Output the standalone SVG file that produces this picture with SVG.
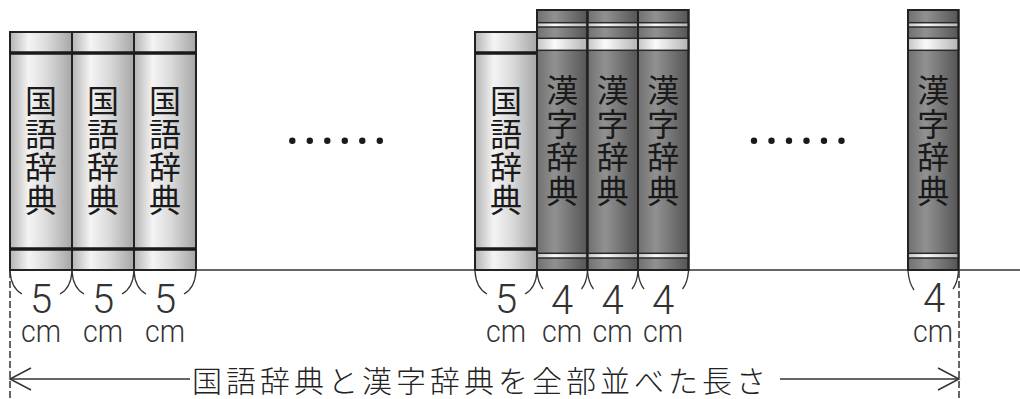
<svg xmlns="http://www.w3.org/2000/svg" width="1020" height="399" viewBox="0 0 1020 399">
<style>
.outline{stroke:#222;stroke-width:2;}
.thick{stroke:#1a1a1a;stroke-width:3.5;}
.thin{stroke:#2a2a2a;stroke-width:1.5;}
.spine{font-family:"Noto Sans CJK JP","Noto Sans CJK SC",sans-serif;font-weight:400;font-size:32px;fill:#1a1a1a;text-anchor:middle;dominant-baseline:central;}
.num{font-family:Roboto,"Liberation Sans",sans-serif;font-weight:300;font-size:40px;fill:#333;text-anchor:middle;}
.unit{font-family:Roboto,"Liberation Sans",sans-serif;font-weight:300;font-size:31px;fill:#333;text-anchor:middle;}
.cap{font-family:"Noto Sans CJK JP","Noto Sans CJK SC",sans-serif;font-weight:300;font-size:30px;fill:#222;letter-spacing:4px;dominant-baseline:central;}
.arm{fill:none;stroke:#333;stroke-width:1.3;}
.dash{stroke:#333;stroke-width:1.5;stroke-dasharray:7 3;}
.ln{stroke:#333;stroke-width:1.5;fill:none;}
</style>
<defs>
<linearGradient id="gLight" x1="0" y1="0" x2="1" y2="0">
<stop offset="0" stop-color="#b4b4b4"/>
<stop offset="0.3" stop-color="#f4f4f4"/>
<stop offset="0.6" stop-color="#dadada"/>
<stop offset="1" stop-color="#a6a6a6"/>
</linearGradient>
<linearGradient id="gDark" x1="0" y1="0" x2="1" y2="0">
<stop offset="0" stop-color="#707070"/>
<stop offset="0.35" stop-color="#919191"/>
<stop offset="1" stop-color="#555555"/>
</linearGradient>
<linearGradient id="gStrip" x1="0" y1="0" x2="1" y2="0">
<stop offset="0" stop-color="#c4c4c4"/>
<stop offset="0.35" stop-color="#fafafa"/>
<stop offset="1" stop-color="#b4b4b4"/>
</linearGradient>
<g id="kokugo">
<rect x="0" y="32" width="62" height="238" fill="url(#gLight)" class="outline"/>
<line x1="0" y1="53" x2="62" y2="53" class="thick"/>
<line x1="0" y1="249" x2="62" y2="249" class="thick"/>
<text class="spine"><tspan x="31" y="99">国</tspan><tspan x="31" y="132">語</tspan><tspan x="31" y="165">辞</tspan><tspan x="31" y="198">典</tspan></text>
</g>
<g id="kanji">
<rect x="0" y="10" width="50.5" height="260" fill="url(#gDark)" class="outline"/>
<rect x="0" y="22.7" width="50.5" height="4.3" fill="url(#gStrip)" class="thin"/>
<rect x="0" y="38.3" width="50.5" height="12" fill="url(#gStrip)" class="thin"/>
<rect x="0" y="253.3" width="50.5" height="4.7" fill="url(#gStrip)" class="thin"/>
<rect x="0" y="10" width="50.5" height="260" fill="none" class="outline"/>
<text class="spine"><tspan x="25.25" y="88">漢</tspan><tspan x="25.25" y="121.5">字</tspan><tspan x="25.25" y="155">辞</tspan><tspan x="25.25" y="188.5">典</tspan></text>
</g>
</defs>
<g id="ground">
<line x1="10" y1="270" x2="1020" y2="270" class="ln"/>
</g>
<g id="book-k1"><use href="#kokugo" x="10"/></g>
<g id="book-k2"><use href="#kokugo" x="72"/></g>
<g id="book-k3"><use href="#kokugo" x="134"/></g>
<g id="book-k4"><use href="#kokugo" x="475"/></g>
<g id="book-j1"><use href="#kanji" x="537"/></g>
<g id="book-j2"><use href="#kanji" x="587.5"/></g>
<g id="book-j3"><use href="#kanji" x="638"/></g>
<g id="book-j4"><use href="#kanji" x="908"/></g>
<g id="dots-1" fill="#1a1a1a">
<circle cx="292.3" cy="140.7" r="3.2"/><circle cx="309.8" cy="140.7" r="3.2"/><circle cx="327.3" cy="140.7" r="3.2"/><circle cx="344.8" cy="140.7" r="3.2"/><circle cx="362.3" cy="140.7" r="3.2"/><circle cx="379.8" cy="140.7" r="3.2"/>
</g>
<g id="dots-2" fill="#1a1a1a">
<circle cx="754" cy="140.7" r="3.2"/><circle cx="771.5" cy="140.7" r="3.2"/><circle cx="789" cy="140.7" r="3.2"/><circle cx="806.5" cy="140.7" r="3.2"/><circle cx="824" cy="140.7" r="3.2"/><circle cx="841.5" cy="140.7" r="3.2"/>
</g>
<g id="connectors">
<path class="arm" d="M10,271 Q11,288 22,294"/>
<path class="arm" d="M72,271 Q71,288 60,294"/>
<path class="arm" d="M72,271 Q73,288 84,294"/>
<path class="arm" d="M134,271 Q133,288 122,294"/>
<path class="arm" d="M134,271 Q135,288 146,294"/>
<path class="arm" d="M196,271 Q195,288 184,294"/>
<path class="arm" d="M475,271 Q476,288 487,294"/>
<path class="arm" d="M537,271 Q536,288 525,294"/>
<path class="arm" d="M537,271 Q538,283 543,289"/>
<path class="arm" d="M587.5,271 Q586.5,283 581.5,289"/>
<path class="arm" d="M587.5,271 Q588.5,283 593.5,289"/>
<path class="arm" d="M638,271 Q637,283 632,289"/>
<path class="arm" d="M638,271 Q639,283 644,289"/>
<path class="arm" d="M688.5,271 Q687.5,283 682.5,289"/>
<path class="arm" d="M908,271 Q909,283 914,290"/>
<path class="arm" d="M958.5,271 Q957.5,283 953,289"/>
<line class="dash" x1="10" y1="271" x2="10" y2="399"/>
<line class="dash" x1="959" y1="271" x2="959" y2="399"/>
<line class="ln" x1="10" y1="379" x2="190" y2="379"/>
<line class="ln" x1="780" y1="379" x2="959" y2="379"/>
<polyline class="ln" points="31,368 10,379 31,390"/>
<polyline class="ln" points="938,368 959,379 938,390"/>
</g>
<g id="labels">
<text class="num" x="41" y="313">5</text><text class="unit" x="41" y="342" textLength="40" lengthAdjust="spacingAndGlyphs">cm</text>
<text class="num" x="103" y="313">5</text><text class="unit" x="103" y="342" textLength="40" lengthAdjust="spacingAndGlyphs">cm</text>
<text class="num" x="165" y="313">5</text><text class="unit" x="165" y="342" textLength="40" lengthAdjust="spacingAndGlyphs">cm</text>
<text class="num" x="506" y="313">5</text><text class="unit" x="506" y="342" textLength="40" lengthAdjust="spacingAndGlyphs">cm</text>
<text class="num" x="562" y="314">4</text><text class="unit" x="562" y="342" textLength="40" lengthAdjust="spacingAndGlyphs">cm</text>
<text class="num" x="612.5" y="314">4</text><text class="unit" x="612.5" y="342" textLength="40" lengthAdjust="spacingAndGlyphs">cm</text>
<text class="num" x="663" y="314">4</text><text class="unit" x="663" y="342" textLength="40" lengthAdjust="spacingAndGlyphs">cm</text>
<text class="num" x="934" y="312">4</text><text class="unit" x="933" y="342" textLength="40" lengthAdjust="spacingAndGlyphs">cm</text>
<text class="cap" x="192" y="379">国語辞典と漢字辞典を全部並べた長さ</text>
</g>
</svg>
